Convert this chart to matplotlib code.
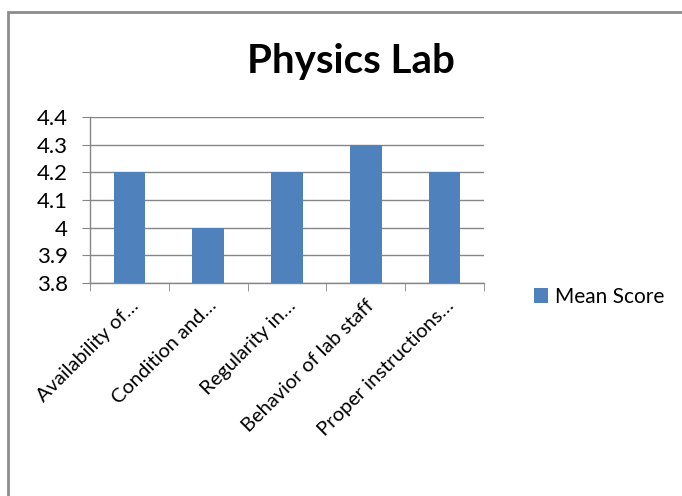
import numpy as np
import matplotlib
matplotlib.use('Agg')
import matplotlib.pyplot as plt
from matplotlib.patches import Rectangle

plt.rcParams['font.family'] = ['Lato', 'DejaVu Sans']

# --- data ---
categories = ['Availability of…', 'Condition and…', 'Regularity in…',
              'Behavior of lab staff', 'Proper instructions…']
mean_score = [4.2, 4.0, 4.2, 4.3, 4.2]
y_ticks = [3.8, 3.9, 4.0, 4.1, 4.2, 4.3, 4.4]
y_tick_labels = ['3.8', '3.9', '4', '4.1', '4.2', '4.3', '4.4']

bar_color = '#4F81BD'
grid_color = '#868686'

fig = plt.figure(figsize=(6.82, 4.96), dpi=100)
# outer chart border (Excel style), cut off on right and bottom
fig.patches.append(Rectangle((8 / 682, -0.05), 1.2, (496 - 12) / 496 + 0.05,
                             transform=fig.transFigure, fill=False,
                             edgecolor='#8C8C8C', linewidth=2))

ax = fig.add_axes([90 / 682, 213 / 496, 394 / 682, 166 / 496])
x = np.arange(len(categories))
ax.bar(x, np.array(mean_score) - 3.8, bottom=3.8, width=0.4,
       color=bar_color, label='Mean Score', zorder=3)

ax.set_ylim(3.8, 4.4)
ax.set_xlim(-0.5, len(categories) - 0.5)
ax.set_yticks(y_ticks)
ax.set_yticklabels(y_tick_labels, fontsize=16)
ax.yaxis.grid(True, color=grid_color, linewidth=1, zorder=0)
ax.tick_params(axis='y', length=6, color=grid_color, pad=10)

# category labels at bar centers, ticks at boundaries
ax.set_xticks(x)
ax.set_xticklabels(categories, rotation=45, ha='right', rotation_mode='anchor',
                   fontsize=14.5)
ax.tick_params(axis='x', length=0, pad=10)
ax.set_xticks(np.arange(len(categories) + 1) - 0.5, minor=True)
ax.tick_params(axis='x', which='minor', length=6, color=grid_color)

for s in ['top', 'right']:
    ax.spines[s].set_visible(False)
for s in ['left', 'bottom']:
    ax.spines[s].set_color(grid_color)
    ax.spines[s].set_linewidth(1)

fig.text(351 / 682, 1 - 62 / 496, 'Physics Lab', ha='center', va='center',
         fontsize=29, fontweight='bold')

fig.legend(loc='center left', bbox_to_anchor=(515 / 682, 1 - 297 / 496),
           frameon=False, fontsize=15, handlelength=0.7, handleheight=0.7,
           handletextpad=0.3)

fig.savefig('out.png', dpi=100)
